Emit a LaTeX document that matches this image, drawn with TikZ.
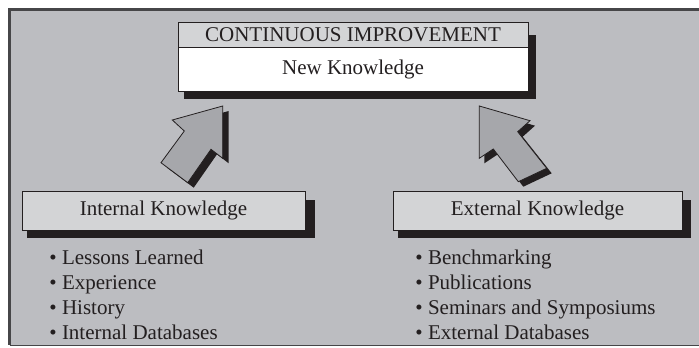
\documentclass[tikz,border=0pt]{standalone}
\usepackage{fontspec}
\setmainfont{Liberation Serif}
\definecolor{bg}{RGB}{188,189,193}
\definecolor{lite}{RGB}{211,212,214}
\definecolor{arr}{RGB}{166,167,171}
\definecolor{ink}{RGB}{35,31,32}
\definecolor{framecol}{RGB}{70,70,72}
\begin{document}
\begin{tikzpicture}[x=0.5pt,y=-0.5pt,
  font=\fontsize{10.5}{12.6}\selectfont,
  every node/.style={text=ink},
  boxstyle/.style={draw=ink, line width=0.4pt, inner sep=0pt},
  shadowstyle/.style={fill=ink},
  blockarrow/.style={fill=arr, draw=ink, line width=0.4pt, line join=miter},
  itemstyle/.style={anchor=base west, inner sep=0pt}]
\useasboundingbox (0,0) rectangle (699,347);
% background panel
\fill[bg] (9,9) rectangle (699,345);
\draw[framecol, line width=1.1pt] (699,9.5) -- (9.5,9.5) -- (9.5,345);
\draw[framecol, line width=0.5pt] (9.5,345) -- (699,345);
% shadows
\fill[shadowstyle] (184,35) rectangle (536,99);
\fill[shadowstyle] (27,200) rectangle (315,238);
\fill[shadowstyle] (398,200) rectangle (691,238);
% boxes
\node[boxstyle, fill=lite, minimum width=175pt, minimum height=12.5pt] (hdr) at (353,34.5) {CONTINUOUS IMPROVEMENT};
\node[boxstyle, fill=white, minimum width=175pt, minimum height=22pt] (body) at (353,69) {New Knowledge};
\node[boxstyle, fill=lite, minimum width=141.5pt, minimum height=19.5pt] (internal) at (163.5,210.5) {Internal Knowledge};
\node[boxstyle, fill=lite, minimum width=144.5pt, minimum height=19.5pt] (external) at (537.5,210.5) {External Knowledge};
% left block arrow
\begin{scope}[shift={(6,5)}]
\fill[shadowstyle] (222.7,106) -- (172.3,120) -- (184.3,131) -- (161,162.7) -- (187.7,182.7) -- (211,149.3) -- (222.7,158.3) -- cycle;
\end{scope}
\draw[blockarrow] (222.7,106) -- (172.3,120) -- (184.3,131) -- (161,162.7) -- (187.7,182.7) -- (211,149.3) -- (222.7,158.3) -- cycle;
% right block arrow
\begin{scope}[shift={(5,5)}]
\fill[shadowstyle] (479.3,106) -- (530,120.7) -- (517.7,131.7) -- (546.7,168.3) -- (518.3,181.7) -- (493.3,149) -- (479.3,158.3) -- cycle;
\end{scope}
\draw[blockarrow] (479.3,106) -- (530,120.7) -- (517.7,131.7) -- (546.7,168.3) -- (518.3,181.7) -- (493.3,149) -- (479.3,158.3) -- cycle;
% lists
\node[itemstyle] (l1) at (49,264) {\textbullet\ Lessons Learned};
\node[itemstyle] (l2) at (49,289) {\textbullet\ Experience};
\node[itemstyle] (l3) at (49,314) {\textbullet\ History};
\node[itemstyle] (l4) at (49,339) {\textbullet\ Internal Databases};
\node[itemstyle] (r1) at (415,264) {\textbullet\ Benchmarking};
\node[itemstyle] (r2) at (415,289) {\textbullet\ Publications};
\node[itemstyle] (r3) at (415,314) {\textbullet\ Seminars and Symposiums};
\node[itemstyle] (r4) at (415,339) {\textbullet\ External Databases};
\end{tikzpicture}
\end{document}
